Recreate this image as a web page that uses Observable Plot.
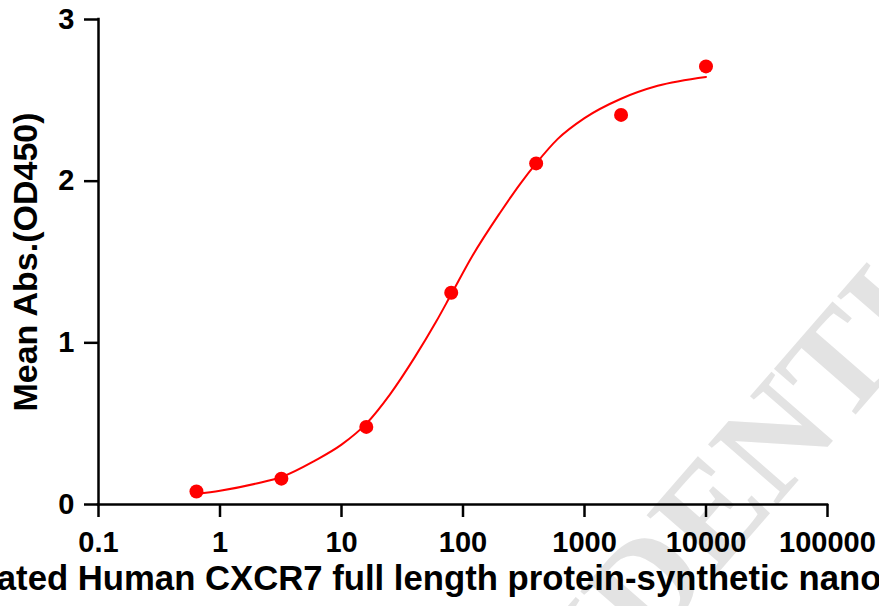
<!DOCTYPE html>
<html>
<head>
<meta charset="utf-8">
<script src="https://cdn.jsdelivr.net/npm/d3@7"></script>
<script src="https://cdn.jsdelivr.net/npm/@observablehq/plot@0.6"></script>
<style>
  html, body { margin: 0; padding: 0; background: #ffffff; }
  #chart { width: 879px; height: 606px; overflow: hidden; position: relative; }
</style>
</head>
<body>
<div id="chart"></div>
<script>
// Tick values
const xTicks = [0.1, 1, 10, 100, 1000, 10000, 100000];
const yTicks = [0, 1, 2, 3];

// Measured points (concentration, mean absorbance)
const doseX = [0.64, 3.2, 16, 80, 400, 2000, 10000];
const meanAbs = [0.08, 0.16, 0.48, 1.31, 2.11, 2.41, 2.71];

// Fitted curve
const fitX = [0.64, 1, 2, 3.2, 6, 10, 16, 25, 40, 60, 80, 120, 200, 300, 400, 600, 1000, 2000, 4000, 10000];
const fitY = [0.065, 0.085, 0.13, 0.17, 0.27, 0.37, 0.50, 0.68, 0.91, 1.13, 1.30, 1.54, 1.80, 1.99, 2.11, 2.26, 2.39, 2.51, 2.59, 2.645];

const xTitle = "Biotinylated Human CXCR7 full length protein-synthetic nanodisc Conc.(ng/ml)";
const yTitle = "Mean Abs.(OD450)";

const points = doseX.map((x, i) => ({x, y: meanAbs[i]}));
const fit = fitX.map((x, i) => ({x, y: fitY[i]}));

const font = "'Liberation Sans', Arial, Helvetica, sans-serif";

const plot = Plot.plot({
  width: 879,
  height: 606,
  marginLeft: 98,
  marginRight: 52,
  marginTop: 19,
  marginBottom: 102,
  x: {type: "log", domain: [0.1, 100000]},
  y: {domain: [0, 3]},
  style: {fontFamily: font, fontWeight: "bold", background: "#ffffff", color: "#000000", overflow: "visible"},
  marks: [
    Plot.axisX({ticks: xTicks, tickFormat: d => String(d), tickSize: 13, tickPadding: 14, fontSize: 29, strokeWidth: 2.5, label: null}),
    Plot.axisY({ticks: yTicks, tickFormat: d => String(d), tickSize: 14, tickPadding: 10, fontSize: 29, strokeWidth: 2.5, label: null}),
    Plot.ruleY([0], {strokeWidth: 2.5, strokeLinecap: "square"}),
    Plot.ruleX([0.1], {strokeWidth: 2.5, strokeLinecap: "square"}),
    Plot.line(fit, {x: "x", y: "y", stroke: "#ff0000", strokeWidth: 2, curve: "monotone-x"}),
    Plot.dot(points, {x: "x", y: "y", r: 7, fill: "#ff0000", stroke: "none"}),
    Plot.text([xTitle], {text: d => d, frameAnchor: "bottom", dy: 85, dx: 58, fontSize: 34.7, fontWeight: "bold", fill: "#000000"}),
    Plot.text([yTitle], {text: d => d, frameAnchor: "left", textAnchor: "middle", dx: -72, rotate: -90, fontSize: 34, fontWeight: "bold", fill: "#000000"})
  ]
});

// Watermark behind the marks
d3.select(plot).insert("text", ":first-child")
  .attr("transform", "translate(352,994) rotate(-49)")
  .attr("text-anchor", "start")
  .attr("font-family", "'Liberation Serif', 'Times New Roman', serif")
  .attr("font-weight", "bold")
  .attr("font-size", 140)
  .attr("fill", "#e3e3e3")
  .text("CONFIDENTIAL");

document.getElementById("chart").appendChild(plot);
</script>
</body>
</html>
